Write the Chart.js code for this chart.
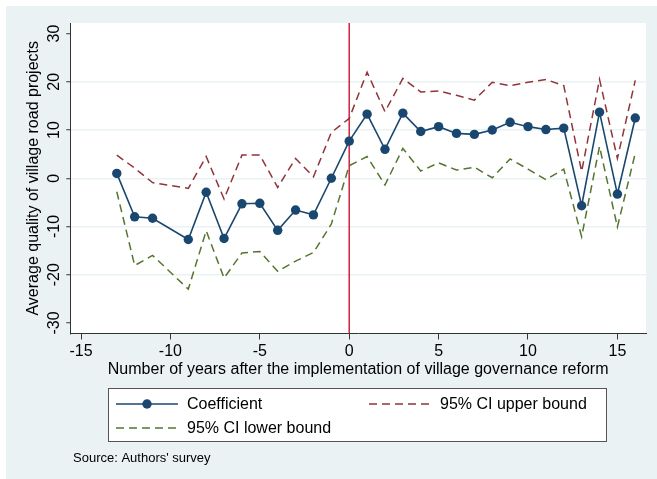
<!DOCTYPE html>
<html>
<head>
<meta charset="utf-8">
<script src="https://cdn.jsdelivr.net/npm/chart.js@4/dist/chart.umd.min.js"></script>
<style>
  html, body { margin: 0; padding: 0; background: #ffffff; }
  canvas { display: block; }
</style>
</head>
<body>
<canvas id="c" width="657" height="479"></canvas>
<script>
// Event-study estimates: years relative to the village governance reform
const years = [-13, -12, -11, -9, -8, -7, -6, -5, -4, -3, -2, -1, 0, 1, 2, 3, 4, 5, 6, 7, 8, 9, 10, 11, 12, 13, 14, 15, 16];
const coefficient = [1.0, -8.0, -8.3, -12.7, -2.9, -12.5, -5.3, -5.2, -10.8, -6.6, -7.6, 0.0, 7.7, 13.3, 6.0, 13.5, 9.7, 10.7, 9.3, 9.1, 10.0, 11.6, 10.7, 10.1, 10.4, -5.7, 13.7, -3.3, 12.5];
const ciUpper = [4.8, 2.1, -0.9, -2.1, 4.5, -4.3, 4.8, 4.8, -1.9, 4.1, 0.3, 9.5, 12.4, 22.0, 13.8, 20.7, 17.9, 18.1, 17.2, 16.2, 19.9, 19.2, 19.9, 20.5, 19.2, 1.4, 20.5, 4.1, 20.3];
const ciLower = [-2.8, -18.1, -16.0, -23.0, -10.9, -20.7, -15.5, -15.2, -19.3, -17.2, -15.4, -9.5, 2.6, 4.5, -1.4, 6.2, 1.5, 3.2, 1.7, 2.3, 0.1, 4.0, 1.9, -0.3, 1.9, -12.1, 6.6, -10.1, 5.2];
const xTicks = [-15, -10, -5, 0, 5, 10, 15];
const yTicks = [-30, -20, -10, 0, 10, 20, 30];
const reformYear = 0;

const NAVY = '#1a476f';
const MAROON = '#90353b';
const OLIVE = '#55752f';
const REFLINE = '#d0223e';
const BG = '#eaf2f3';
const AXIS = '#333333';
const FONT = '"Liberation Sans", Arial, Helvetica, sans-serif';
const DASH = [8, 5];

const toPoints = vals => years.map((x, i) => ({ x: x, y: vals[i] }));

// Panel background: tinted graph region, white plot region
const backgroundPlugin = {
  id: 'panelBackground',
  beforeDraw(chart) {
    const { ctx, chartArea: a, width, height } = chart;
    ctx.save();
    ctx.fillStyle = '#ffffff';
    ctx.fillRect(0, 0, width, height);
    ctx.fillStyle = BG;
    ctx.fillRect(6, 6, width - 6, height - 6);
    ctx.fillStyle = '#ffffff';
    ctx.fillRect(a.left, a.top, a.right - a.left, a.bottom - a.top);
    ctx.restore();
  }
};

// Vertical reference line at the reform year
const reformLinePlugin = {
  id: 'reformLine',
  beforeDatasetsDraw(chart) {
    const { ctx, chartArea: a, scales } = chart;
    const x = scales.x.getPixelForValue(reformYear);
    ctx.save();
    ctx.strokeStyle = REFLINE;
    ctx.lineWidth = 1.5;
    ctx.beginPath();
    ctx.moveTo(x, a.top);
    ctx.lineTo(x, a.bottom);
    ctx.stroke();
    ctx.restore();
  }
};

// Boxed two-column legend and source note below the axis
const legendBoxPlugin = {
  id: 'legendBox',
  afterDraw(chart) {
    const { ctx } = chart;
    const ds = chart.data.datasets;
    ctx.save();
    ctx.fillStyle = '#ffffff';
    ctx.fillRect(108.5, 388.5, 498, 53);
    ctx.strokeStyle = '#555555';
    ctx.lineWidth = 1;
    ctx.strokeRect(108.5, 388.5, 498, 53);

    const items = [
      { d: ds[0], x0: 116, x1: 178, tx: 187, y: 404, marker: true },
      { d: ds[1], x0: 369, x1: 430, tx: 440, y: 404, marker: false },
      { d: ds[2], x0: 116, x1: 178, tx: 187, y: 428, marker: false }
    ];
    items.forEach(it => {
      ctx.strokeStyle = it.d.borderColor;
      ctx.lineWidth = it.d.borderWidth;
      ctx.setLineDash(it.d.borderDash || []);
      ctx.beginPath();
      ctx.moveTo(it.x0, it.y);
      ctx.lineTo(it.x1, it.y);
      ctx.stroke();
      ctx.setLineDash([]);
      if (it.marker) {
        ctx.fillStyle = it.d.pointBackgroundColor;
        ctx.beginPath();
        ctx.arc((it.x0 + it.x1) / 2, it.y, it.d.pointRadius, 0, Math.PI * 2);
        ctx.fill();
      }
      ctx.fillStyle = '#000000';
      ctx.font = '16px ' + FONT;
      ctx.textAlign = 'left';
      ctx.textBaseline = 'middle';
      ctx.fillText(it.d.label, it.tx, it.y + 1);
    });

    ctx.font = '13px ' + FONT;
    ctx.fillStyle = '#000000';
    ctx.textBaseline = 'middle';
    ctx.fillText("Source: Authors' survey", 73, 458);
    ctx.restore();
  }
};

new Chart(document.getElementById('c'), {
  type: 'line',
  data: {
    datasets: [
      {
        label: 'Coefficient',
        data: toPoints(coefficient),
        borderColor: NAVY,
        backgroundColor: NAVY,
        pointBackgroundColor: NAVY,
        pointBorderWidth: 0,
        pointRadius: 4.7,
        borderWidth: 1.6,
        tension: 0
      },
      {
        label: '95% CI upper bound',
        data: toPoints(ciUpper),
        borderColor: MAROON,
        borderWidth: 1.5,
        borderDash: DASH,
        pointRadius: 0,
        tension: 0
      },
      {
        label: '95% CI lower bound',
        data: toPoints(ciLower),
        borderColor: OLIVE,
        borderWidth: 1.5,
        borderDash: DASH,
        pointRadius: 0,
        tension: 0
      }
    ]
  },
  options: {
    responsive: false,
    animation: false,
    devicePixelRatio: 1,
    layout: { padding: { left: 6, right: 11, top: 23, bottom: 95.5 } },
    plugins: {
      legend: { display: false },
      tooltip: { enabled: false }
    },
    scales: {
      x: {
        type: 'linear',
        min: -15.6,
        max: 16.6,
        afterBuildTicks: s => { s.ticks = xTicks.map(v => ({ value: v })); },
        afterFit: s => { s.height = 50; },
        grid: { drawOnChartArea: false, drawTicks: true, tickLength: 6, tickColor: AXIS, tickWidth: 1 },
        border: { display: true, color: AXIS, width: 1 },
        ticks: { color: '#000000', font: { family: FONT, size: 16 }, padding: 2, maxRotation: 0, minRotation: 0 },
        title: {
          display: true,
          text: 'Number of years after the implementation of village governance reform',
          color: '#000000',
          font: { family: FONT, size: 16 },
          padding: { top: 4, bottom: 4 }
        }
      },
      y: {
        type: 'linear',
        min: -32.2,
        max: 32.2,
        afterBuildTicks: s => { s.ticks = yTicks.map(v => ({ value: v })); },
        afterFit: s => { s.width = 64.3; },
        grid: {
          color: c => (c.tick && Math.abs(c.tick.value) === 30) ? 'rgba(0,0,0,0)' : BG,
          lineWidth: 1.5,
          drawTicks: true,
          tickLength: 4,
          tickColor: AXIS,
          tickWidth: 1
        },
        border: { display: true, color: AXIS, width: 1 },
        ticks: {
          color: '#000000',
          font: { family: FONT, size: 16 },
          padding: 0,
          minRotation: 90,
          maxRotation: 90,
          crossAlign: 'center'
        },
        title: {
          display: true,
          text: 'Average quality of village road projects',
          color: '#000000',
          font: { family: FONT, size: 16 },
          padding: { top: 18, bottom: 18 }
        }
      }
    }
  },
  plugins: [backgroundPlugin, reformLinePlugin, legendBoxPlugin]
});
</script>
</body>
</html>
